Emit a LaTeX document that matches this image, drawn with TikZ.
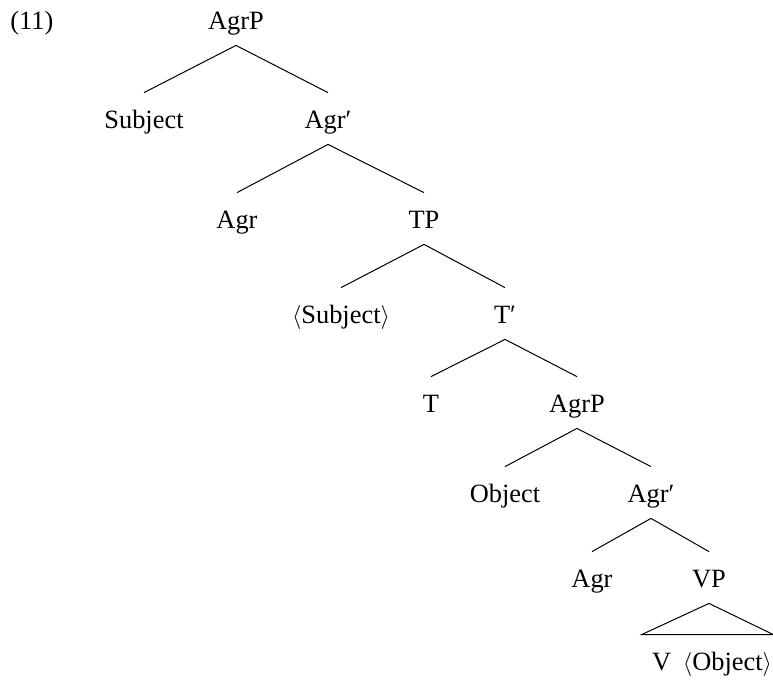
\documentclass[tikz,border=0pt]{standalone}
\usepackage{fontspec}
\setmainfont{Liberation Serif}
\begin{document}
\begin{tikzpicture}[x=0.5pt,y=-0.5pt,
  lab/.style={anchor=base,inner xsep=0pt,inner ysep=5pt,text height=12.5pt,text depth=3pt,
    font=\fontsize{13.2}{15}\selectfont},
  edge/.style={draw=black,line width=0.5pt}]
\useasboundingbox (0,0) rectangle (773,693);
\node[lab,anchor=base west] (ex) at (10,29) {(11)};
\node[lab] (agrp1) at (236,29) {AgrP};
\node[lab] (subj) at (144,128) {Subject};
\node[lab] (agrb1) at (328,128) {Agr′};
\node[lab] (agr1) at (237,228) {Agr};
\node[lab] (tp) at (424,228) {TP};
\node[lab] (subj2) at (341,323) {$\langle$Subject$\rangle$};
\node[lab] (tbar) at (505,323) {T′};
\node[lab] (t) at (431,412) {T};
\node[lab] (agrp2) at (577,412) {AgrP};
\node[lab] (obj) at (505,502) {Object};
\node[lab] (agrb2) at (651,502) {Agr′};
\node[lab] (agr2) at (592,587) {Agr};
\node[lab] (vp) at (709,587) {VP};
\node[lab] (vobj) at (712,670) {V\hspace{0.45em}$\langle$Object$\rangle$};
\draw[edge] (subj.north) -- (agrp1.south) -- (agrb1.north);
\draw[edge] (agr1.north) -- (agrb1.south) -- (tp.north);
\draw[edge] (subj2.north) -- (tp.south) -- (tbar.north);
\draw[edge] (t.north) -- (tbar.south) -- (agrp2.north);
\draw[edge] (obj.north) -- (agrp2.south) -- (agrb2.north);
\draw[edge] (agr2.north) -- (agrb2.south) -- (vp.north);
\coordinate (tl) at ([xshift=-5pt]vobj.north west);
\coordinate (tr) at ([xshift=0.5pt]vobj.north east);
\draw[edge] (vp.south) -- (tl) -- (tr) -- cycle;
\end{tikzpicture}
\end{document}
